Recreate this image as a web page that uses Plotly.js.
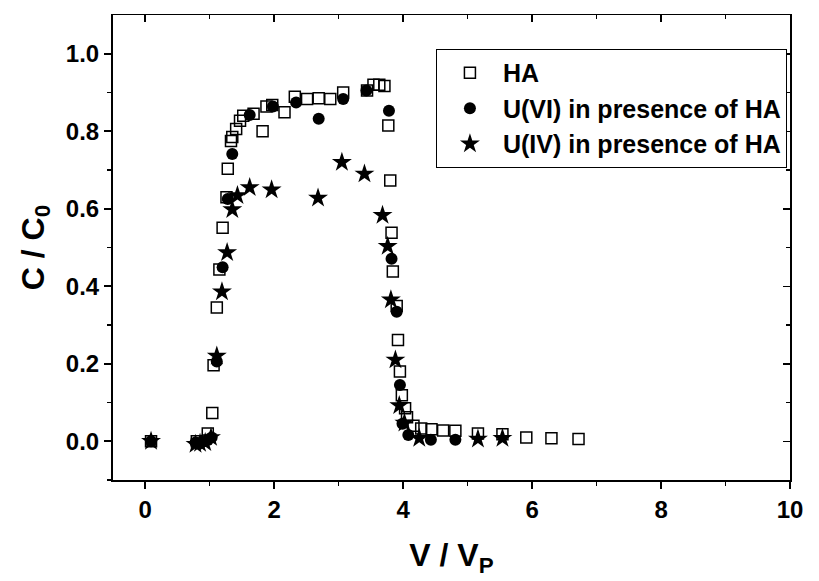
<!DOCTYPE html>
<html><head><meta charset="utf-8">
<script src="https://cdn.plot.ly/plotly-3.0.1.min.js"></script>
<style>html,body{margin:0;padding:0;background:#fff}#chart{width:819px;height:581px}</style>
</head><body><div id="chart"></div>
<script>
const haX = [0.09,0.80,0.97,1.04,1.06,1.11,1.15,1.20,1.26,1.28,1.33,1.35,1.41,1.47,1.52,1.68,1.82,1.88,1.97,2.16,2.32,2.51,2.69,2.87,3.07,3.44,3.54,3.63,3.71,3.77,3.80,3.82,3.84,3.90,3.92,3.95,3.98,4.03,4.06,4.16,4.28,4.44,4.62,4.81,5.16,5.54,5.91,6.30,6.72];
const haY = [0.0,0.0,0.02,0.073,0.196,0.345,0.443,0.551,0.63,0.703,0.775,0.785,0.806,0.827,0.84,0.845,0.80,0.864,0.868,0.849,0.889,0.883,0.885,0.883,0.90,0.905,0.92,0.92,0.917,0.815,0.673,0.538,0.438,0.349,0.261,0.18,0.119,0.085,0.062,0.04,0.033,0.031,0.028,0.027,0.02,0.018,0.01,0.008,0.006];
const u6X = [0.09,0.78,0.88,0.97,1.03,1.11,1.20,1.28,1.35,1.62,1.98,2.34,2.69,3.07,3.43,3.78,3.82,3.90,3.95,3.99,4.08,4.43,4.81];
const u6Y = [0.0,-0.003,-0.002,0.003,0.01,0.206,0.449,0.625,0.741,0.842,0.864,0.874,0.832,0.883,0.905,0.853,0.471,0.334,0.145,0.045,0.016,0.004,0.004];
const u4X = [0.09,0.78,0.85,0.93,1.02,1.11,1.19,1.27,1.35,1.43,1.62,1.96,2.68,3.05,3.40,3.68,3.76,3.81,3.88,3.94,4.02,4.25,5.16,5.54];
const u4Y = [0.0,-0.008,-0.005,-0.003,0.01,0.22,0.386,0.487,0.598,0.634,0.655,0.649,0.628,0.72,0.69,0.583,0.503,0.365,0.21,0.092,0.047,0.008,0.006,0.008];
const names = ['HA','U(VI) in presence of HA','U(IV) in presence of HA'];
const xTicks = [0,2,4,6,8,10];
const yTicks = [0.0,0.2,0.4,0.6,0.8,1.0];

const FONT = 'Liberation Sans, Arial, sans-serif';
const traces = [
  {x: haX, y: haY, name: names[0], legendgroup:'a', mode:'markers', type:'scatter',
   marker:{symbol:'square-open', size:11, color:'#000', line:{width:1.5,color:'#000'}}},
  {x: u6X, y: u6Y, name: names[1], legendgroup:'b', mode:'markers', type:'scatter',
   marker:{symbol:'circle', size:12, color:'#000'}},
  {x: u4X, y: u4Y, name: names[2], legendgroup:'c', mode:'markers', type:'scatter',
   marker:{symbol:'star', size:15, color:'#000'}}
];
const layout = {
  width: 819, height: 581,
  font: {family: FONT, size: 24, color:'#000', weight:'bold'},
  margin: {l:113, r:29, t:15, b:101, autoexpand:false},
  paper_bgcolor:'#fff', plot_bgcolor:'#fff',
  showlegend: true,
  legend: {x:0.477, y:0.927, xanchor:'left', yanchor:'top', bordercolor:'#000', borderwidth:1,
           bgcolor:'#fff', font:{family:FONT, size:25, color:'#000', weight:'bold'},
           tracegroupgap:0, itemwidth:56},
  xaxis: {range:[-0.5,10], tickvals:xTicks, ticktext:xTicks.map(String), showgrid:false, zeroline:false,
          showline:true, linecolor:'#000', linewidth:2, ticks:'outside', ticklen:7, tickwidth:2, tickcolor:'#000',
          minor:{tickvals:[1,3,5,7,9], ticks:'outside', ticklen:4, tickwidth:1.5, tickcolor:'#000'},
          tickfont: {family: FONT, size: 24, color:'#000', weight:'bold'},
          title:{text:'V / V<sub>P</sub>', font:{family:FONT, size:32, color:'#000', weight:'bold'}, standoff:22}},
  yaxis: {range:[-0.1,1.1], tickvals:yTicks, ticktext:yTicks.map(v=>v.toFixed(1)), showgrid:false, zeroline:false,
          showline:true, linecolor:'#000', linewidth:2, ticks:'outside', ticklen:7, tickwidth:2, tickcolor:'#000',
          minor:{tickvals:[-0.1,0.1,0.3,0.5,0.7,0.9], ticks:'outside', ticklen:4, tickwidth:1.5, tickcolor:'#000'},
          tickfont: {family: FONT, size: 24, color:'#000', weight:'bold'},
          title:{text:'C / C<sub>0</sub>', font:{family:FONT, size:32, color:'#000', weight:'bold'}, standoff:12}},
  xaxis2: {overlaying:'x', side:'top', range:[-0.5,10], tickvals:xTicks, showticklabels:false, showgrid:false, zeroline:false,
          showline:true, linecolor:'#000', linewidth:1.5, ticks:'inside', ticklen:7, tickwidth:1.5, tickcolor:'#000',
          minor:{tickvals:[1,3,5,7,9], ticks:'inside', ticklen:4, tickwidth:1.5, tickcolor:'#000'}},
  yaxis2: {overlaying:'y', side:'right', range:[-0.1,1.1], tickvals:yTicks, showticklabels:false, showgrid:false, zeroline:false,
          showline:true, linecolor:'#000', linewidth:1.5, ticks:'inside', ticklen:7, tickwidth:1.5, tickcolor:'#000',
          minor:{tickvals:[-0.1,0.1,0.3,0.5,0.7,0.9], ticks:'inside', ticklen:4, tickwidth:1.5, tickcolor:'#000'}}
};
traces.push({x:[], y:[], xaxis:'x2', yaxis:'y2', showlegend:false, hoverinfo:'skip', type:'scatter', mode:'markers'});
Plotly.newPlot('chart', traces, layout, {displayModeBar:false, staticPlot:true});
</script></body></html>
